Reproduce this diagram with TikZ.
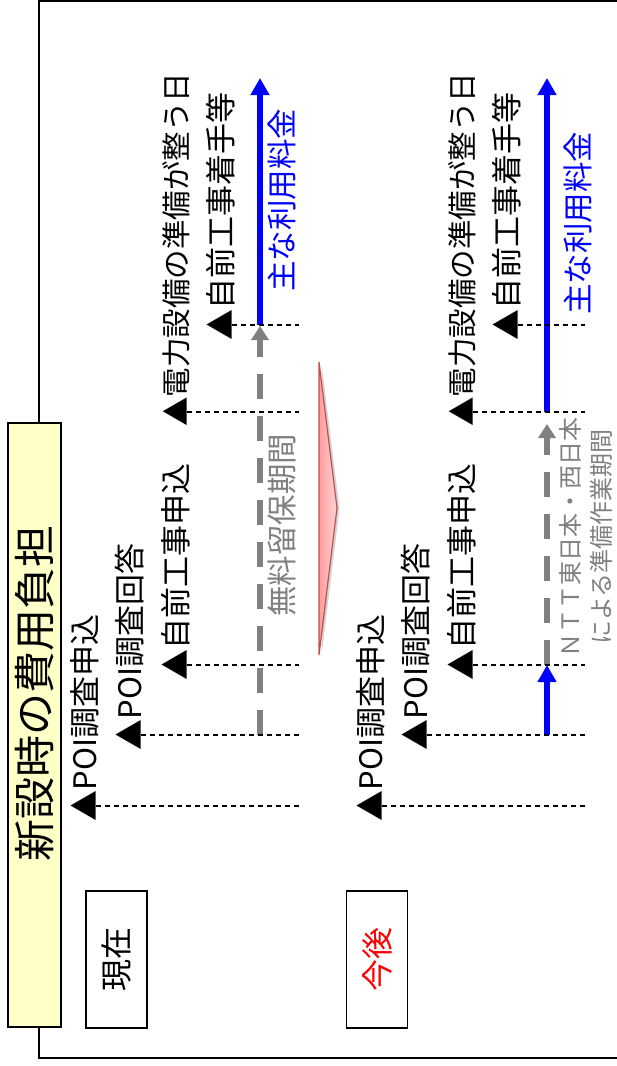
\documentclass[tikz,border=0pt]{standalone}
\usepackage{fontspec}
\setmainfont{Noto Sans CJK JP}
\usetikzlibrary{arrows.meta,shadows}
\definecolor{tgray}{HTML}{808080}
\definecolor{tblue}{HTML}{0000FF}
\definecolor{tyellow}{HTML}{FFFFC8}
\definecolor{pinkedge}{HTML}{C0504D}
\definecolor{pinkA}{HTML}{FF9C9C}
\definecolor{pinkB}{HTML}{FFD6D6}
\begin{document}
\begin{tikzpicture}[x=1pt,y=-1pt,
  lab/.style={rotate=90,anchor=base west,inner sep=0pt,font=\fontsize{31}{37}\selectfont},
  guide/.style={line width=1.3pt,dash pattern=on 5pt off 4pt},
  grayflow/.style={line width=6pt,draw=tgray,dash pattern=on 25pt off 17pt,-{Triangle[width=17pt,length=14pt]}},
  blueflow/.style={line width=6pt,draw=tblue,-{Triangle[width=18pt,length=17pt]}},
  vtext/.style={rotate=90,inner sep=0pt},
  tagbox/.style={draw,line width=1.5pt,rotate=90,minimum width=137pt,minimum height=61pt,inner sep=0pt,font=\fontsize{32}{38}\selectfont}]
\useasboundingbox (0,0) rectangle (617,1066);
% outer frame
\draw[line width=2pt] (620,1) -- (39,1) -- (39,1058) -- (620,1058);
% title
\node[draw,line width=1.5pt,fill=tyellow,rotate=90,minimum width=604pt,minimum height=53pt,inner sep=0pt] (titlebox) at (34.5,725) {};
\node[vtext,font=\fontsize{42}{50}\selectfont] (title) at (35,693) {新設時の費用負担};
% period boxes
\node[tagbox] (now) at (116.5,959.5) {現在};
\node[tagbox,text=red] (future) at (377,959.5) {今後};
% transition arrow
\draw[draw=pinkedge,line width=1.2pt,left color=pinkA,right color=pinkB,
  drop shadow={opacity=0.35,shadow xshift=2.5pt,shadow yshift=-1pt}]
  (319,362) -- (337,508) -- (319,655) -- cycle;

% ---------- upper panel ----------
\node[lab] (p1) at (96,821.5) {▲POI調査申込};
\node[lab] (p2) at (141,750.5) {▲POI調査回答};
\node[lab] (p3) at (187,680.5) {▲自前工事申込};
\node[lab,font=\fontsize{29.5}{35}\selectfont] (p4) at (187,426.8) {▲電力設備の準備が整う日};
\node[lab] (p5) at (232,340.5) {▲自前工事着手等};
\coordinate (p1e) at (299,806);
\coordinate (p2e) at (299,735);
\coordinate (p3e) at (299,665);
\coordinate (p4e) at (299,412);
\coordinate (p5e) at (299,325);
\coordinate (ug0) at (260,735);
\coordinate (ug1) at (260,326);
\coordinate (ub0) at (260,325);
\coordinate (ub1) at (260,78);
\draw[grayflow] (ug0) -- (ug1);
\draw[blueflow] (ub0) -- (ub1);
\draw[guide] (p1.base west |- p1e) -- (p1e);
\draw[guide] (p2.base west |- p2e) -- (p2e);
\draw[guide] (p3.base west |- p3e) -- (p3e);
\draw[guide] (p4.base west |- p4e) -- (p4e);
\draw[guide] (p5.base west |- p5e) -- (p5e);
\node[vtext,text=tblue,font=\fontsize{30.5}{36}\selectfont] (ufee) at (282,200) {主な利用料金};
\node[vtext,text=tgray,font=\fontsize{30.5}{36}\selectfont] (ukeep) at (282,525) {無料留保期間};

% ---------- lower panel ----------
\node[lab] (q1) at (382,821.5) {▲POI調査申込};
\node[lab] (q2) at (427,750.5) {▲POI調査回答};
\node[lab] (q3) at (473,680.5) {▲自前工事申込};
\node[lab,font=\fontsize{29.5}{35}\selectfont] (q4) at (473,426.8) {▲電力設備の準備が整う日};
\node[lab] (q5) at (518,340.5) {▲自前工事着手等};
\coordinate (q1e) at (585,806);
\coordinate (q2e) at (585,735);
\coordinate (q3e) at (585,665);
\coordinate (q4e) at (585,412);
\coordinate (q5e) at (585,325);
\coordinate (lb0) at (547,735);
\coordinate (lb1) at (547,665);
\coordinate (lg0) at (547,665);
\coordinate (lg1) at (547,424);
\coordinate (lc0) at (547,412);
\coordinate (lc1) at (547,78);
\draw[blueflow] (lb0) -- (lb1);
\draw[grayflow] (lg0) -- (lg1);
\draw[blueflow] (lc0) -- (lc1);
\draw[guide] (q1.base west |- q1e) -- (q1e);
\draw[guide] (q2.base west |- q2e) -- (q2e);
\draw[guide] (q3.base west |- q3e) -- (q3e);
\draw[guide] (q4.base west |- q4e) -- (q4e);
\draw[guide] (q5.base west |- q5e) -- (q5e);
\node[vtext,text=tblue,font=\fontsize{30.5}{36}\selectfont] (lfee) at (578,223) {主な利用料金};
\node[vtext,text=tgray,align=center,font=\fontsize{24}{31}\selectfont] (lprep) at (586,537) {ＮＴＴ東日本・西日本\\による準備作業期間};
\end{tikzpicture}
\end{document}
